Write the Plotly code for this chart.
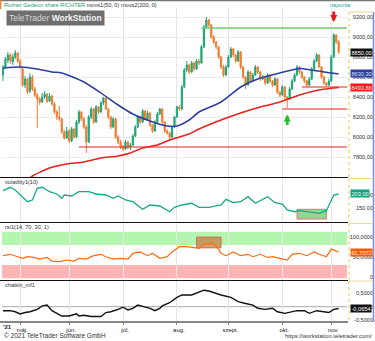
import plotly.graph_objects as go
import pandas as pd

# ---------------- data ----------------
# Budapest trading days, 22 Apr - 5 Nov 2021
holidays = ["2021-05-24", "2021-08-20", "2021-10-22", "2021-11-01"]
dates = pd.bdate_range("2021-04-22", "2021-11-05", freq="C", holidays=holidays)

month_labels = ["máj.", "jún.", "júl.", "aug.", "szept.", "okt.", "nov."]

opens = [8620, 8700, 8770, 8820, 8750, 8800, 8840, 8760, 8680, 8520,
         8580, 8460, 8600, 8480, 8420, 8380, 8350, 8400, 8430, 8360,
         8410, 8330, 8250, 8200, 8180, 8050, 7990, 8060, 7960, 8080,
         8000, 8150, 8250, 8180, 8100, 7950, 8200, 8280, 8150, 8300,
         8250, 8340, 8390, 8280, 8200, 8100, 8180, 8000, 7950, 7900,
         7880, 7950, 7900, 7920, 8010, 8100, 8200, 8150, 8260, 8180,
         8240, 8120, 8060, 8150, 8230, 8280, 8150, 8060, 8040, 8000,
         8100, 8200, 8300, 8280, 8500, 8670, 8720, 8650, 8740, 8680,
         8760, 8740, 8900, 9100, 9170, 9120, 9000, 8950, 8900, 8800,
         8700, 8620, 8700, 8800, 8880, 8820, 8760, 8850, 8700, 8600,
         8520, 8650, 8560, 8620, 8700, 8650, 8580, 8600, 8540, 8620,
         8560, 8520, 8580, 8450, 8420, 8500, 8400, 8380, 8480, 8560,
         8620, 8700, 8650, 8600, 8560, 8520, 8580, 8680, 8760, 8820,
         8700, 8600, 8540, 8520, 8560, 8800, 9020, 8950]
highs = [8720, 8800, 8850, 8840, 8830, 8870, 8850, 8780, 8700, 8610,
         8590, 8640, 8620, 8500, 8440, 8400, 8440, 8460, 8440, 8440,
         8420, 8350, 8270, 8310, 8190, 8070, 8100, 8080, 8100, 8090,
         8170, 8270, 8260, 8200, 8120, 8220, 8300, 8290, 8320, 8310,
         8360, 8400, 8400, 8290, 8210, 8200, 8190, 8020, 7970, 7920,
         7970, 7960, 7940, 8030, 8120, 8220, 8210, 8280, 8270, 8260,
         8250, 8130, 8170, 8250, 8290, 8290, 8160, 8080, 8050, 8110,
         8210, 8310, 8320, 8520, 8690, 8760, 8730, 8760, 8750, 8780,
         8780, 8920, 9120, 9200, 9180, 9130, 9020, 8960, 8910, 8810,
         8720, 8720, 8820, 8900, 8890, 8830, 8870, 8860, 8710, 8610,
         8670, 8660, 8640, 8720, 8710, 8660, 8620, 8610, 8640, 8630,
         8570, 8600, 8590, 8460, 8520, 8510, 8410, 8500, 8580, 8640,
         8720, 8710, 8660, 8610, 8570, 8600, 8700, 8780, 8840, 8830,
         8710, 8610, 8550, 8580, 8820, 9040, 9030, 8970]
lows = [8560, 8680, 8740, 8730, 8720, 8780, 8740, 8680, 8500, 8490,
        8430, 8440, 8460, 8400, 8090, 8320, 8340, 8380, 8340, 8350,
        8310, 8230, 8170, 8160, 8030, 7970, 7980, 7940, 7950, 7980,
        7990, 8130, 8160, 8080, 7840, 7940, 8180, 8130, 8140, 8230,
        8240, 8320, 8270, 8180, 8080, 8090, 7980, 7930, 7880, 7860,
        7870, 7880, 7870, 7910, 8000, 8090, 8130, 8140, 8170, 8160,
        8100, 8040, 8050, 8140, 8220, 8130, 8040, 8020, 7970, 7990,
        8090, 8190, 8260, 8270, 8490, 8650, 8630, 8640, 8660, 8670,
        8720, 8730, 8890, 9080, 9100, 8980, 8930, 8880, 8780, 8680,
        8600, 8610, 8690, 8790, 8800, 8740, 8750, 8680, 8580, 8480,
        8510, 8540, 8550, 8610, 8630, 8560, 8570, 8520, 8530, 8540,
        8500, 8510, 8430, 8400, 8410, 8380, 8290, 8370, 8470, 8550,
        8610, 8630, 8580, 8540, 8500, 8510, 8570, 8670, 8750, 8690,
        8580, 8520, 8500, 8510, 8550, 8790, 8930, 8830]
closes = [8700, 8780, 8820, 8760, 8800, 8840, 8760, 8700, 8520, 8580,
          8450, 8600, 8480, 8420, 8380, 8350, 8400, 8430, 8360, 8410,
          8330, 8250, 8200, 8180, 8050, 7990, 8060, 7960, 8080, 8000,
          8150, 8250, 8180, 8100, 7950, 8200, 8280, 8150, 8300, 8250,
          8340, 8390, 8280, 8200, 8100, 8180, 8000, 7950, 7900, 7880,
          7950, 7900, 7920, 8010, 8100, 8200, 8150, 8260, 8180, 8240,
          8120, 8060, 8150, 8230, 8280, 8150, 8060, 8040, 8000, 8100,
          8200, 8300, 8280, 8500, 8670, 8720, 8650, 8740, 8680, 8760,
          8740, 8900, 9100, 9170, 9120, 9000, 8950, 8900, 8800, 8700,
          8620, 8700, 8800, 8880, 8820, 8760, 8850, 8700, 8600, 8520,
          8650, 8560, 8620, 8700, 8650, 8580, 8600, 8540, 8620, 8560,
          8520, 8580, 8450, 8420, 8500, 8400, 8380, 8480, 8560, 8620,
          8700, 8650, 8600, 8560, 8520, 8580, 8680, 8760, 8820, 8700,
          8600, 8540, 8520, 8560, 8800, 9020, 8950, 8850]

# moving averages (50 and 200 days)
ma50_idx = [0, 7, 14, 20, 24, 33, 40, 47, 53, 60, 67, 71, 76, 80, 89, 97,
            105, 113, 121, 126, 131, 137]
ma50_val = [8690, 8700, 8680, 8650, 8640, 8550, 8440, 8320, 8230, 8160,
            8110, 8110, 8170, 8250, 8350, 8500, 8590, 8640, 8685, 8670,
            8650, 8630.30]
ma200_idx = [10, 12, 19, 26, 33, 40, 47, 52, 57, 63, 68, 72, 76, 80, 89,
             97, 105, 113, 121, 129, 137]
ma200_val = [7570, 7610, 7690, 7730, 7750, 7790, 7810, 7840, 7890, 7920,
             7970, 8000, 8030, 8080, 8170, 8240, 8300, 8350, 8420, 8470,
             8493.88]

# support / resistance levels: first day and price
level_start = [81, 31, 114, 122]
level_value = [9090, 7900, 8280, 8500]

# signal arrows: day and price at the tip
sell_signal = (135, 9150)
buy_signal = (116, 8225)

# volatility(10)
vol_idx = [0, 3, 5, 8, 10, 12, 14, 16, 19, 22, 24, 25, 28, 31, 35, 38, 42,
           45, 47, 50, 53, 57, 60, 64, 68, 70, 73, 77, 80, 84, 89, 91, 94,
           97, 100, 103, 106, 108, 111, 114, 116, 119, 121, 125, 129, 132,
           133, 135, 137]
vol_val = [215.5, 228.4, 218, 192.8, 173.8, 180.3, 224.6, 228.4, 211.7, 203,
           186.7, 199.2, 195.4, 211.7, 211.7, 203, 199.2, 186.7, 195.4, 180.3,
           173.8, 145, 161.3, 157.5, 135.9, 152.6, 161.3, 167.8, 152.6, 152.6,
           161.3, 182.9, 170, 173.8, 192.8, 167.8, 182.9, 192.8, 170, 165.1,
           142.4, 135.9, 139.7, 135.9, 129.9, 139.7, 161.3, 199.2, 203.0]
vol_zone = [120, 132, 108, 145]          # first day, last day, low, high

# rsi(14, 70, 30)
rsi_idx = [0, 3, 6, 8, 10, 12, 15, 18, 20, 23, 26, 29, 31, 34, 37, 40, 42,
           45, 48, 51, 53, 56, 59, 61, 64, 67, 69, 72, 75, 78, 80, 82, 85,
           87, 89, 91, 94, 97, 100, 102, 105, 108, 110, 113, 116, 118, 121,
           124, 127, 129, 132, 134, 137]
rsi_val = [52.5, 56, 50, 46, 50, 48.8, 44, 48, 39, 37.5, 41.7, 39, 46, 44,
           52.5, 56, 50, 44, 46, 44, 58.5, 62, 52.5, 58.5, 46, 50, 62, 75, 75,
           72.5, 71, 81, 83.5, 77.5, 58.5, 52.5, 62, 52.5, 56, 50, 56, 48, 50,
           46, 41.7, 56, 58.5, 52.5, 62, 56, 50, 69, 61.7072]
rsi_zone = [79, 89, 72, 99]

# chaikin money flow
mf_idx = [0, 3, 5, 7, 9, 11, 14, 16, 18, 20, 22, 24, 27, 30, 31, 33, 36,
          40, 42, 44, 47, 49, 51, 53, 55, 57, 60, 62, 64, 65, 68, 71, 73,
          77, 80, 82, 84, 87, 89, 93, 96, 99, 102, 104, 107, 110, 112, 115,
          118, 120, 123, 125, 128, 131, 133, 135, 137]
mf_val = [-0.15, -0.15, -0.19, -0.27, -0.22, -0.19, -0.1, 0.03, 0.06, -0.15,
          -0.25, -0.35, -0.35, -0.27, -0.35, -0.32, -0.37, -0.37, -0.22,
          -0.19, -0.1, -0.02, -0.12, -0.06, 0.06, 0, -0.06, -0.15, -0.06,
          0.03, 0.15, 0.35, 0.44, 0.44, 0.56, 0.62, 0.59, 0.5, 0.44, 0.35,
          0.19, 0.12, 0.06, -0.06, -0.1, -0.06, -0.19, -0.25, -0.19, -0.15,
          -0.15, -0.25, -0.15, -0.19, -0.22, -0.1, -0.0654]

# ---------------- helpers ----------------
W, H = 375, 341
ML, MR, MT, MB = 2, 2, 0, 19
PW, PH = W - ML - MR, H - MT - MB
CHART_RIGHT = 347          # right edge of the chart area, px
LABEL_RIGHT = 373          # right edge of the value strip, px


def px_x(x):
    return (x - ML) / PW


def px_y(y):
    return (PH - (y - MT)) / PH


def dec(v, n):
    return f"{v:.{n}f}".replace(".", ",")


n = len(dates)
days = list(range(n))
x_end = n + 2.4
month_idx = [i for i in range(1, n) if dates[i].month != dates[i - 1].month]

FONT = "Liberation Sans"
GREEN_C = "#1fa67a"
ORANGE_C = "#f47b2e"
BLUE_C = "#2d3f9e"
RED_C = "#e8231c"

fig = go.Figure()

fig.add_trace(go.Candlestick(
    x=days, open=opens, high=highs, low=lows, close=closes,
    increasing=dict(line=dict(color=GREEN_C, width=1), fillcolor=GREEN_C),
    decreasing=dict(line=dict(color=ORANGE_C, width=1), fillcolor=ORANGE_C),
    whiskerwidth=0, xaxis="x", yaxis="y", showlegend=False))

fig.add_trace(go.Scatter(x=ma50_idx, y=ma50_val, mode="lines",
                         line=dict(color=BLUE_C, width=1.5, shape="spline", smoothing=0.6),
                         xaxis="x", yaxis="y", showlegend=False))
fig.add_trace(go.Scatter(x=ma200_idx, y=ma200_val, mode="lines",
                         line=dict(color=RED_C, width=1.5, shape="spline", smoothing=0.6),
                         xaxis="x", yaxis="y", showlegend=False))

level_colors = ["#6cc96c", RED_C, RED_C, RED_C]
for s, v, c in zip(level_start, level_value, level_colors):
    fig.add_trace(go.Scatter(x=[s, x_end], y=[v, v], mode="lines",
                             line=dict(color=c, width=1.6 if c != RED_C else 1.2),
                             xaxis="x", yaxis="y", showlegend=False))

fig.add_trace(go.Scatter(x=vol_idx, y=vol_val, mode="lines",
                         line=dict(color="#17a987", width=1.3),
                         xaxis="x", yaxis="y2", showlegend=False))
fig.add_trace(go.Scatter(x=rsi_idx, y=rsi_val, mode="lines",
                         line=dict(color="#ff6a10", width=1.2),
                         xaxis="x", yaxis="y3", showlegend=False))
fig.add_trace(go.Scatter(x=mf_idx, y=mf_val, mode="lines",
                         line=dict(color="#111111", width=1.4),
                         xaxis="x", yaxis="y4", showlegend=False))

shapes = []
# rsi bands
shapes.append(dict(type="rect", xref="x", yref="y3", x0=-0.4, x1=x_end,
                   y0=79, y1=112.5, fillcolor="#b4f5b0", line_width=0, layer="below"))
shapes.append(dict(type="rect", xref="x", yref="y3", x0=-0.4, x1=x_end,
                   y0=-4, y1=29.3, fillcolor="#ffb5b5", line_width=0, layer="below"))
# highlighted zones
shapes.append(dict(type="rect", xref="x", yref="y2", x0=vol_zone[0], x1=vol_zone[1],
                   y0=vol_zone[2], y1=vol_zone[3], fillcolor="rgba(110,200,110,0.75)",
                   line=dict(color="#e06060", width=0.8), layer="below"))
shapes.append(dict(type="rect", xref="x", yref="y3", x0=rsi_zone[0], x1=rsi_zone[1],
                   y0=rsi_zone[2], y1=rsi_zone[3], fillcolor="rgba(196,128,70,0.75)",
                   line=dict(color="#d06040", width=0.8), layer="below"))
# chaikin zero line
shapes.append(dict(type="line", xref="x", yref="y4", x0=-0.4, x1=x_end, y0=0, y1=0,
                   line=dict(color="#aaaaaa", width=1), layer="below"))
# panel separators
for yy in [177.5, 222.5, 280.5, 322]:
    shapes.append(dict(type="line", xref="paper", yref="paper", x0=px_x(0), x1=px_x(348),
                       y0=px_y(yy), y1=px_y(yy), line=dict(color="#111111", width=1)))
# value strip frame
shapes.append(dict(type="line", xref="paper", yref="paper", x0=px_x(373.5), x1=px_x(373.5),
                   y0=px_y(12), y1=px_y(322), line=dict(color="#7d8ce0", width=1.5)))
for y0p, y1p in [(12, 177), (178.5, 222), (223.5, 279.5), (281, 322)]:
    shapes.append(dict(type="line", xref="paper", yref="paper", x0=px_x(349), x1=px_x(349),
                       y0=px_y(y0p), y1=px_y(y1p),
                       line=dict(color="#e6c35a", width=1, dash="dot")))
    shapes.append(dict(type="line", xref="paper", yref="paper", x0=px_x(349), x1=px_x(373),
                       y0=px_y(y0p), y1=px_y(y0p), line=dict(color="#f0d890", width=1)))
# top border
shapes.append(dict(type="line", xref="paper", yref="paper", x0=px_x(0), x1=px_x(375),
                   y0=px_y(0.5), y1=px_y(0.5), line=dict(color="#777777", width=1.5)))
shapes.append(dict(type="line", xref="paper", yref="paper", x0=px_x(0.5), x1=px_x(0.5),
                   y0=px_y(0), y1=px_y(9), line=dict(color="#f08020", width=1.5)))

ann = []
small = dict(family=FONT, size=5.6, color="#333333")
ann.append(dict(xref="paper", yref="paper", x=px_x(2), y=px_y(4.5), xanchor="left",
                yanchor="middle", showarrow=False, font=small,
                text='<span style="color:#1f9e6e">Richter Gedeon share RICHTER</span> '
                     'movs1(50, 0) movs2(200, 0)'))
ann.append(dict(xref="paper", yref="paper", x=px_x(340), y=px_y(4.5), xanchor="center",
                yanchor="middle", showarrow=False,
                font=dict(family=FONT, size=5.6, color="#2aa198"), text="naponta"))
ann.append(dict(xref="paper", yref="paper", x=px_x(55), y=px_y(18.5), xanchor="center",
                yanchor="middle", showarrow=False, bgcolor="#6f6f6f", borderpad=2,
                font=dict(family=FONT, size=8.5, color="#f4f4f4"),
                text='<span style="color:#d8d8d8">TeleTrader</span> <b>WorkStation</b>'))
for txt, yy in [("volatility1(10)", 181.5), ("rsi1(14, 70, 30, 1)", 227), ("chaikin_mf1", 284.5)]:
    ann.append(dict(xref="paper", yref="paper", x=px_x(3), y=px_y(yy), xanchor="left",
                    yanchor="middle", showarrow=False, font=small, text=txt))
ann.append(dict(xref="paper", yref="paper", x=px_x(1), y=px_y(327), xanchor="left",
                yanchor="middle", showarrow=False,
                font=dict(family=FONT, size=6, color="#222222"), text="<b>'21</b>"))
ann.append(dict(xref="paper", yref="paper", x=px_x(2), y=px_y(335.5), xanchor="left",
                yanchor="middle", showarrow=False,
                font=dict(family=FONT, size=6.5, color="#333333"),
                text="© 2021 TeleTrader Software GmbH"))
ann.append(dict(xref="paper", yref="paper", x=px_x(374), y=px_y(335.5), xanchor="right",
                yanchor="middle", showarrow=False,
                font=dict(family=FONT, size=5.8, color="#333333"),
                text="https://workstation.teletrader.com/"))

# last-value tags on the value strip
tags = [("y", closes[-1], dec(closes[-1], 2), "#111111", "#ffffff"),
        ("y", ma50_val[-1], dec(ma50_val[-1], 2), "#2a3c9c", "#dde3ff"),
        ("y", ma200_val[-1], dec(ma200_val[-1], 2), "#f01c1c", "#ffe0e0"),
        ("y2", vol_val[-1], dec(vol_val[-1], 2), "#12a37c", "#e8fff5"),
        ("y3", rsi_val[-1], dec(rsi_val[-1], 4), "#ff5a00", "#fff0e0"),
        ("y4", mf_val[-1], dec(mf_val[-1], 4), "#111111", "#ffffff")]
for yr, v, txt, bg, fg in tags:
    ann.append(dict(xref="paper", yref=yr, x=px_x(350), y=v, xanchor="left",
                    yanchor="middle", showarrow=False, bgcolor=bg, borderpad=0.5,
                    font=dict(family=FONT, size=5.6, color=fg), text=txt))

# signal arrows
ann.append(dict(x=sell_signal[0], y=sell_signal[1], xref="x", yref="y", text="",
                showarrow=True, ax=0, ay=-12, arrowhead=2, arrowsize=0.5,
                arrowwidth=2.8, arrowcolor="#e8191d", standoff=0))
ann.append(dict(x=buy_signal[0], y=buy_signal[1], xref="x", yref="y", text="",
                showarrow=True, ax=0, ay=12, arrowhead=2, arrowsize=0.5,
                arrowwidth=2.8, arrowcolor="#22c02a", standoff=0))

main_ticks = [7800, 8000, 8200, 8400, 8600, 8800, 9000, 9200]
vol_ticks = [150, 200]
rsi_ticks = [0, 50, 100]
mf_ticks = [-0.5, 0, 0.5]

# value axes: labels right-aligned against the strip's right edge
yax = dict(anchor="free", position=px_x(LABEL_RIGHT), side="left", showline=False,
           ticks="", ticklabelstandoff=0,
           tickfont=dict(family=FONT, size=5.6, color="#333333"), zeroline=False,
           fixedrange=True)

fig.update_layout(
    width=W, height=H, margin=dict(l=ML, r=MR, t=MT, b=MB),
    paper_bgcolor="white", plot_bgcolor="white", showlegend=False,
    font=dict(family=FONT),
    xaxis=dict(domain=[0, px_x(CHART_RIGHT)], range=[-0.4, x_end], anchor="y4",
               tickvals=month_idx, ticktext=month_labels, ticks="outside", ticklen=2,
               tickcolor="#888888", tickfont=dict(family=FONT, size=6, color="#222222"),
               ticklabelshift=2,
               showgrid=True, gridcolor="#e6e6e6", zeroline=False, showline=False,
               rangeslider=dict(visible=False), fixedrange=True),
    yaxis=dict(domain=[px_y(177), px_y(8)], range=[7600, 9290], tickvals=main_ticks,
               ticktext=[dec(v, 2) for v in main_ticks], showgrid=True,
               gridcolor="#ececec", **yax),
    yaxis2=dict(domain=[px_y(222), px_y(178.5)], range=[96.9, 261.7], tickvals=vol_ticks,
                ticktext=[dec(v, 2) for v in vol_ticks], showgrid=False, **yax),
    yaxis3=dict(domain=[px_y(279.5), px_y(223.5)], range=[-7, 133], tickvals=rsi_ticks,
                ticktext=["0", "50,0000", "100,0000"], showgrid=False, **yax),
    yaxis4=dict(domain=[px_y(322), px_y(281)], range=[-0.575, 0.966], tickvals=mf_ticks,
                ticktext=["-0,5000", "0", "0,5000"], showgrid=False, **yax),
    shapes=shapes, annotations=ann,
)

fig.write_html("out.html")
